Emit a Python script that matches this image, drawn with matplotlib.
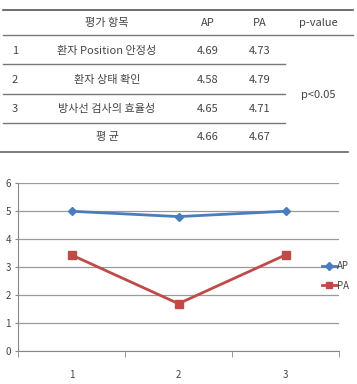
"""Rating table (AP vs PA) with a line chart of per-item scores below."""

import matplotlib
matplotlib.use("Agg")
import matplotlib.pyplot as plt
from matplotlib.lines import Line2D

plt.rcParams["font.family"] = ["Noto Sans CJK KR", "DejaVu Sans"]

# Table contents
TABLE_HEADER = ["평가 항목", "AP", "PA", "p-value"]
ROW_NUMBERS = ["1", "2", "3"]
ROW_ITEMS = ["환자 Position 안정성", "환자 상태 확인", "방사선 검사의 효율성"]
ROW_AP = ["4.69", "4.58", "4.65"]
ROW_PA = ["4.73", "4.79", "4.71"]
MEAN_LABEL = "평 균"
MEAN_AP = "4.66"
MEAN_PA = "4.67"
P_VALUE = "p<0.05"

# Chart series
CATEGORIES = ["1", "2", "3"]
AP_VALUES = [4.98, 4.79, 4.98]
PA_VALUES = [3.42, 1.68, 3.42]

W, H = 357, 384
TEXT_COLOR = "#444444"
BLUE = "#4A7EBB"
RED = "#BE4B48"


def draw_table(fig):
    ax = fig.add_axes([0, 0, 1, 1])
    ax.set_xlim(0, W)
    ax.set_ylim(H, 0)
    ax.axis("off")

    # horizontal rules
    ax.plot([3, 353], [9.5, 9.5], color="#555555", lw=1.2)
    ax.plot([3, 353], [35, 35], color="#777777", lw=1.0)
    for y in (64, 94, 123):
        ax.plot([3, 285], [y, y], color="#777777", lw=1.0)
    ax.plot([0, 348], [152, 152], color="#666666", lw=1.2)

    cols = [107, 208, 260, 318]
    fs = 8
    for x, txt in zip(cols, TABLE_HEADER):
        ax.text(x, 23, txt, ha="center", va="center", fontsize=fs, color=TEXT_COLOR)

    row_y = [51, 80, 109]
    for y, num, item, ap, pa in zip(row_y, ROW_NUMBERS, ROW_ITEMS, ROW_AP, ROW_PA):
        ax.text(15, y, num, ha="center", va="center", fontsize=fs, color=TEXT_COLOR)
        ax.text(cols[0], y, item, ha="center", va="center", fontsize=fs, color=TEXT_COLOR)
        ax.text(cols[1], y, ap, ha="center", va="center", fontsize=fs, color=TEXT_COLOR)
        ax.text(cols[2], y, pa, ha="center", va="center", fontsize=fs, color=TEXT_COLOR)

    ax.text(cols[0], 137, MEAN_LABEL, ha="center", va="center", fontsize=fs, color=TEXT_COLOR)
    ax.text(cols[1], 137, MEAN_AP, ha="center", va="center", fontsize=fs, color=TEXT_COLOR)
    ax.text(cols[2], 137, MEAN_PA, ha="center", va="center", fontsize=fs, color=TEXT_COLOR)
    ax.text(cols[3], 95, P_VALUE, ha="center", va="center", fontsize=fs, color=TEXT_COLOR)


def draw_chart(fig):
    left, right = 18 / W, 339 / W
    bottom, top = (H - 350.7) / H, (H - 182.7) / H
    ax = fig.add_axes([left, bottom, right - left, top - bottom])

    x = list(range(len(CATEGORIES)))
    ax.plot(x, AP_VALUES, color=BLUE, lw=2.0, marker="D", markersize=4.5, label="AP")
    ax.plot(x, PA_VALUES, color=RED, lw=2.0, marker="s", markersize=5.5, label="PA")

    ax.set_xlim(-0.5, len(CATEGORIES) - 0.5)
    ax.set_ylim(0, 6)
    ax.set_yticks(range(0, 7))
    ax.set_xticks(x)
    ax.set_xticklabels(CATEGORIES)
    ax.set_xticks([-0.5 + i for i in range(len(CATEGORIES) + 1)], minor=True)
    ax.tick_params(axis="x", which="major", length=0, pad=14, labelsize=7, colors=TEXT_COLOR)
    ax.tick_params(axis="x", which="minor", length=4, direction="out", color="#888888")
    ax.tick_params(axis="y", length=2, pad=3, labelsize=7, colors=TEXT_COLOR)
    ax.tick_params(axis="y", color="#888888")

    ax.grid(axis="y", color="#9A9A9A", lw=0.9)
    ax.set_axisbelow(True)
    for side in ("top", "right"):
        ax.spines[side].set_visible(False)
    for side in ("left", "bottom"):
        ax.spines[side].set_color("#888888")

    handles = [
        Line2D([], [], color=BLUE, lw=2.0, marker="D", markersize=4),
        Line2D([], [], color=RED, lw=2.0, marker="s", markersize=5),
    ]
    fig.legend(
        handles, ["AP", "PA"],
        loc="center left", bbox_to_anchor=(322 / W, (H - 276) / H),
        frameon=False, fontsize=7, handlelength=1.5, handletextpad=0.05,
        labelspacing=1.0, borderaxespad=0, borderpad=0,
        labelcolor=TEXT_COLOR,
    )


def main():
    fig = plt.figure(figsize=(W / 100, H / 100), dpi=100)
    draw_table(fig)
    draw_chart(fig)
    fig.savefig("out.png", dpi=100)


if __name__ == "__main__":
    main()
